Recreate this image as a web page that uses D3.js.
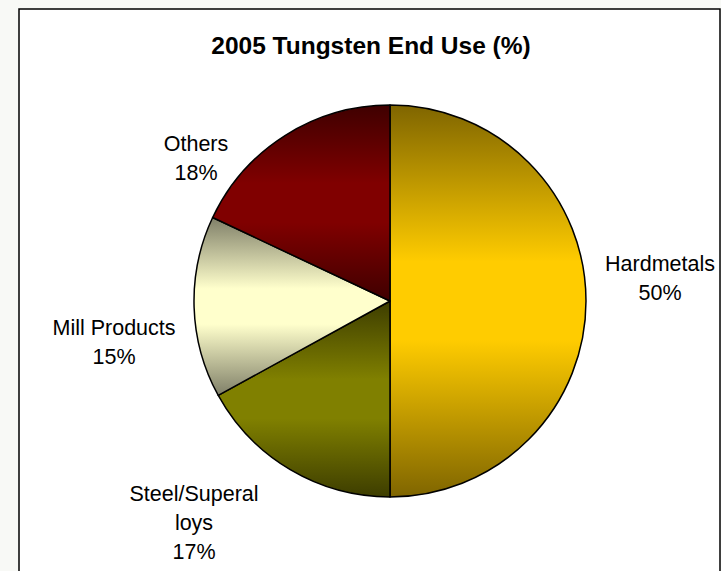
<!DOCTYPE html>
<html>
<head>
<meta charset="utf-8">
<script src="https://cdn.jsdelivr.net/npm/d3@7"></script>
<style>
  html, body { margin: 0; padding: 0; background: #f8f9f6; overflow: hidden; }
  svg { display: block; }
</style>
</head>
<body>
<div id="vis"></div>
<script>
const width = 721;
const height = 571;

const categories = ["Hardmetals", "Steel/Superalloys", "Mill Products", "Others"];
const shares = [50, 17, 15, 18];
// how the labels wrap in the reference
const labelLines = [["Hardmetals"], ["Steel/Superal", "loys"], ["Mill Products"], ["Others"]];

const baseColors = ["#ffcc00", "#808000", "#ffffcc", "#800000"];
const darkColors = ["#7f6500", "#3d3d00", "#7f7f68", "#3f0000"];

const cx = 390, cy = 301, radius = 196;

// label block position (centre x, first baseline y), hand placed like Excel's best fit
const labelPos = [
    { x: 660, y: 271 },
    { x: 194, y: 501 },
    { x: 114, y: 335 },
    { x: 196, y: 151 }
];
const lineHeight = 29;

const svg = d3.select("#vis")
    .append("svg")
    .attr("width", width)
    .attr("height", height);

// chart frame
svg.append("rect")
    .attr("x", 19)
    .attr("y", 9)
    .attr("width", 701)
    .attr("height", 600)
    .style("fill", "#ffffff")
    .style("stroke", "#000000")
    .style("stroke-width", 1.5);

// vertical "from centre" gradient per slice, flat band in the middle
const defs = svg.append("defs");
categories.forEach((c, i) => {
    const g = defs.append("linearGradient")
        .attr("id", "grad" + i)
        .attr("x1", 0).attr("y1", 0)
        .attr("x2", 0).attr("y2", 1);
    g.append("stop").attr("offset", "0%").attr("stop-color", darkColors[i]);
    g.append("stop").attr("offset", "40%").attr("stop-color", baseColors[i]);
    g.append("stop").attr("offset", "60%").attr("stop-color", baseColors[i]);
    g.append("stop").attr("offset", "100%").attr("stop-color", darkColors[i]);
});

const pie = d3.pie()
    .sort(null)
    .value(d => d);

const arc = d3.arc()
    .innerRadius(0)
    .outerRadius(radius);

const arcs = pie(shares);

const g = svg.append("g")
    .attr("transform", `translate(${cx},${cy})`);

g.selectAll("path.slice")
    .data(arcs)
    .enter()
    .append("path")
    .attr("class", "slice")
    .attr("d", arc)
    .style("fill", (d, i) => `url(#grad${i})`)
    .style("stroke", "#000000")
    .style("stroke-width", 1.5)
    .style("stroke-linejoin", "round");

const labels = svg.selectAll("text.label")
    .data(arcs)
    .enter()
    .append("text")
    .attr("class", "label")
    .attr("text-anchor", "middle")
    .style("font-family", "Liberation Sans, Arial, sans-serif")
    .style("font-size", "21.5px")
    .style("fill", "#000000");

labels.each(function(d, i) {
    const t = d3.select(this);
    const lines = labelLines[i].concat([shares[i] + "%"]);
    lines.forEach((ln, k) => {
        t.append("tspan")
            .attr("x", labelPos[i].x)
            .attr("y", labelPos[i].y + k * lineHeight)
            .text(ln);
    });
});

svg.append("text")
    .attr("x", 371)
    .attr("y", 54)
    .attr("text-anchor", "middle")
    .style("font-family", "Liberation Sans, Arial, sans-serif")
    .style("font-weight", "bold")
    .style("font-size", "24.5px")
    .text("2005 Tungsten End Use (%)");
</script>
</body>
</html>
